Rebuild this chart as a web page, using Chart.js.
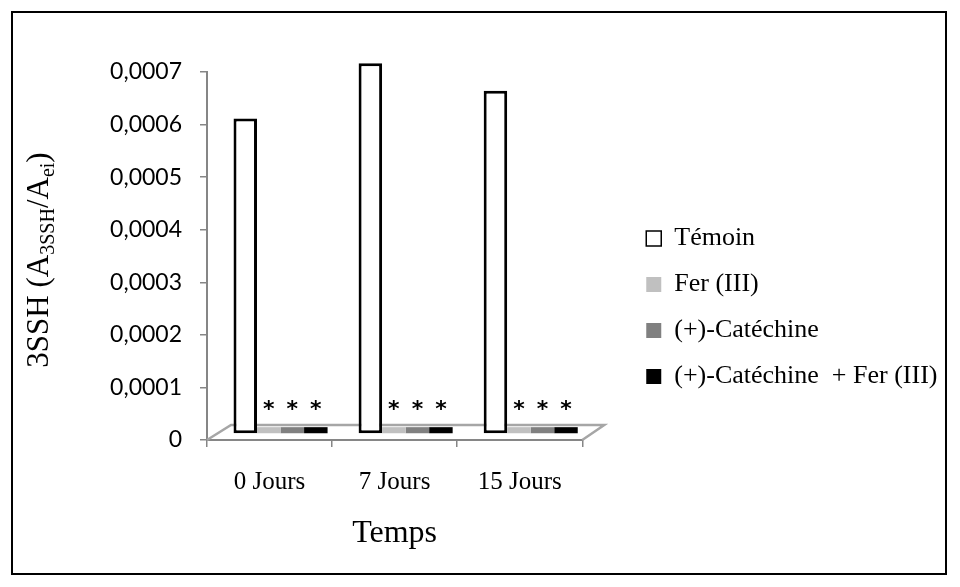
<!DOCTYPE html>
<html>
<head>
<meta charset="utf-8">
<title>3SSH</title>
<script src="https://cdn.jsdelivr.net/npm/chart.js"></script>
<style>
    body { margin: 0; background: #fff; }
    .frame {
        position: absolute;
        left: 11px;
        top: 11px;
        width: 932px;
        height: 560px;
        border: 2px solid #000;
    }
</style>
</head>
<body>
<div class="frame"><canvas id="chart"></canvas></div>
<script>
// values
var categories = ['0 Jours', '7 Jours', '15 Jours'];
var seriesNames = ['Témoin', 'Fer (III)', '(+)-Catéchine', '(+)-Catéchine  + Fer (III)'];
var temoin = [0.0006, 0.000705, 0.000653];
var fer = [0.000013, 0.000013, 0.000013];
var catechine = [0.000013, 0.000013, 0.000013];
var catechineFer = [0.000013, 0.000013, 0.000013];
var significance = ['', '*', '*', '*'];
var yTicks = [0, 0.0001, 0.0002, 0.0003, 0.0004, 0.0005, 0.0006, 0.0007];

var depth = { x: 11, y: -6 };   // bars sit mid-depth on the 3D floor
var serif = "'Liberation Serif', serif";

var floorAndDepth = {
    id: 'floorAndDepth',
    afterLayout: function(chart) {
        // legend sits further from the plot than Chart.js puts it, and gets room for its text
        var lg = chart.legend;
        lg.left = chart.chartArea.right + 44;
        lg.right = chart.width;
        lg.width = lg.right - lg.left;
        lg.top -= 5; lg.bottom -= 5;
    },
    beforeDatasetsDraw: function(chart) {
        var a = chart.chartArea, ctx = chart.ctx;
        ctx.save();
        ctx.strokeStyle = '#a6a6a6';
        ctx.lineWidth = 2.5;
        ctx.beginPath();
        ctx.moveTo(a.left, a.bottom);
        ctx.lineTo(a.left + 24, a.bottom - 15);
        ctx.lineTo(a.right + 22, a.bottom - 15);
        ctx.lineTo(a.right, a.bottom);
        ctx.stroke();
        ctx.restore();
        ctx.save();
        ctx.translate(depth.x, depth.y);
    },
    afterDatasetsDraw: function(chart) {
        var ctx = chart.ctx;
        ctx.restore();
        ctx.save();
        ctx.fillStyle = '#000';
        ctx.font = "bold 22px 'DejaVu Sans'";
        ctx.textAlign = 'center';
        ctx.textBaseline = 'alphabetic';
        chart.data.datasets.forEach(function(ds, i) {
            if (!significance[i]) return;
            chart.getDatasetMeta(i).data.forEach(function(bar) {
                ctx.fillText(significance[i], bar.x + depth.x, bar.y + depth.y - 11);
            });
        });
        ctx.restore();
    },
    afterDraw: function(chart) {
        // y axis title with subscripts
        var ctx = chart.ctx, a = chart.chartArea;
        var parts = [
            { t: '3SSH (A', sub: false },
            { t: '3SSH', sub: true },
            { t: '/A', sub: false },
            { t: 'ei', sub: true },
            { t: ')', sub: false }
        ];
        var big = '31px ' + serif, small = '20px ' + serif;
        var total = 0;
        parts.forEach(function(p) {
            ctx.font = p.sub ? small : big;
            p.w = ctx.measureText(p.t).width;
            total += p.w;
        });
        ctx.save();
        ctx.translate(25 + 10, (a.top + a.bottom) / 2 + 4);
        ctx.rotate(-Math.PI / 2);
        ctx.fillStyle = '#000';
        ctx.textBaseline = 'alphabetic';
        var x = -total / 2;
        parts.forEach(function(p) {
            ctx.font = p.sub ? small : big;
            ctx.fillText(p.t, x, p.sub ? 6 : 0);
            x += p.w;
        });
        ctx.restore();
    }
};

new Chart(document.getElementById('chart'), {
    type: 'bar',
    data: {
        labels: categories,
        datasets: [
            { label: seriesNames[0], data: temoin, backgroundColor: '#fff', borderColor: '#000', borderWidth: 3, borderSkipped: false },
            { label: seriesNames[1], data: fer, backgroundColor: '#c0c0c0', borderWidth: 0 },
            { label: seriesNames[2], data: catechine, backgroundColor: '#808080', borderWidth: 0 },
            { label: seriesNames[3], data: catechineFer, backgroundColor: '#000', borderWidth: 0 }
        ]
    },
    options: {
        responsive: true,
        maintainAspectRatio: false,
        animation: false,
        layout: { padding: { top: 59, bottom: 20, left: 0, right: 173 } },
        datasets: { bar: { categoryPercentage: 0.752, barPercentage: 1, clip: false } },
        plugins: {
            tooltip: { enabled: false },
            legend: {
                position: 'right',
                labels: {
                    color: '#000',
                    font: { family: serif, size: 26 },
                    boxWidth: 15,
                    boxHeight: 15,
                    padding: 20,
                    generateLabels: function(chart) {
                        var items = Chart.defaults.plugins.legend.labels.generateLabels(chart);
                        items.forEach(function(it, i) { it.lineWidth = i === 0 ? 1.5 : 0; });
                        return items;
                    }
                }
            }
        },
        scales: {
            x: {
                afterFit: function(s) { s.height = 113; },
                grid: { drawOnChartArea: false, tickLength: 7, color: '#868686', lineWidth: 1.5 },
                border: { color: '#868686', width: 2 },
                ticks: { color: '#000', font: { family: serif, size: 25 }, padding: 20 },
                title: { display: true, text: 'Temps', color: '#000', font: { family: serif, size: 32 }, padding: { top: 2, bottom: 0 } }
            },
            y: {
                min: 0,
                max: 0.0007,
                afterBuildTicks: function(s) { s.ticks = yTicks.map(function(v) { return { value: v }; }); },
                afterFit: function(s) { s.width = 194; },
                grid: { drawOnChartArea: false, tickLength: 7, color: '#868686', lineWidth: 1.5 },
                border: { color: '#868686', width: 2 },
                ticks: {
                    color: '#000',
                    font: { family: 'Lato', size: 23 },
                    padding: 18,
                    callback: function(v) { return v === 0 ? '0' : v.toFixed(4).replace('.', ','); }
                }
            }
        }
    },
    plugins: [floorAndDepth]
});
</script>
</body>
</html>
